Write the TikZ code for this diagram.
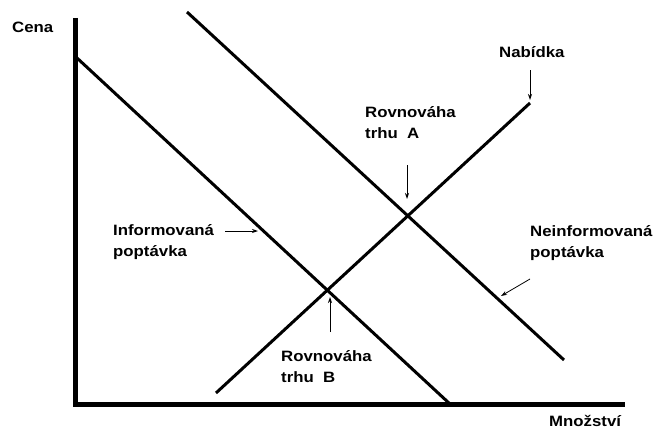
\documentclass[tikz,border=0pt]{standalone}
\usepackage{fontspec}
\setmainfont{Liberation Sans}[FakeStretch=1.12]
\usetikzlibrary{arrows.meta}
\tikzset{
	axis/.style={line width=5pt},
	curve/.style={line width=3pt},
	pointer/.style={line width=0.8pt,-{Stealth[length=6pt,width=4pt]}},
	lbl/.style={anchor=base west,inner sep=0pt,align=left,font=\fontsize{15}{20.5}\selectfont\bfseries}
}
\begin{document}
\begin{tikzpicture}[x=1pt,y=-1pt]
		\useasboundingbox (0,0) rectangle (655,428);
		%Axes
		\draw[axis] (75,18)--(75,404)--(625,404);
		%Demand and supply
		\draw[curve] (77,58)--(450,404);
		\draw[curve] (187,12)--(564,360);
		\draw[curve] (216,393)--(530,103);
		%Labels (base = last line)
		\node[lbl] (cena) at (12,33) {Cena};
		\node[lbl] (mnozstvi) at (549,426) {Množství};
		\node[lbl] (nabidka) at (499,57) {Nabídka};
		\node[lbl] (rovA) at (365,138) {Rovnováha\\trhu\ \ A};
		\node[lbl] (rovB) at (281,382) {Rovnováha\\trhu\ \ B};
		\node[lbl] (inf) at (113,256) {Informovaná\\poptávka};
		\node[lbl] (neinf) at (530,257) {Neinformovaná\\poptávka};
		%Pointers
		\coordinate (nabS) at (530,70);  \coordinate (nabE) at (530,100);
		\coordinate (aS) at (407,165);   \coordinate (aE) at (407,199);
		\coordinate (bS) at (330,332);   \coordinate (bE) at (330,297);
		\coordinate (infS) at (225,231); \coordinate (infE) at (258,231);
		\coordinate (neS) at (530,279);  \coordinate (neE) at (501,296);
		\foreach \s/\e in {nabS/nabE,aS/aE,bS/bE,infS/infE,neS/neE}
		\draw[pointer] (\s)--(\e);
\end{tikzpicture}
\end{document}
